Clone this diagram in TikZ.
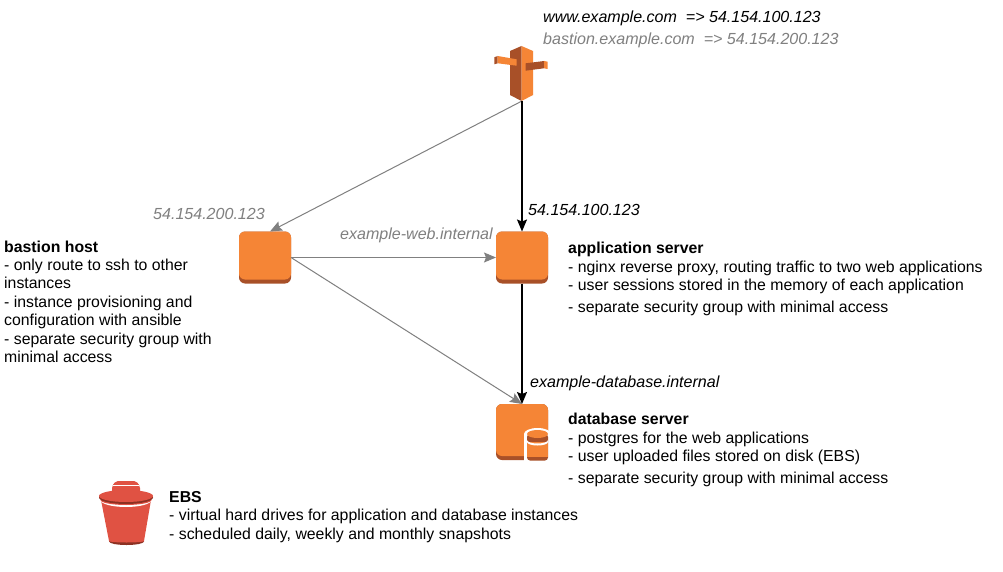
\documentclass[tikz,border=0pt]{standalone}
\usepackage{fontspec}
\setmainfont{Liberation Sans}
\usepackage{tikz}
\usetikzlibrary{arrows.meta}
\definecolor{awsOrange}{RGB}{245, 133, 54}
\definecolor{awsBrown}{RGB}{168, 80, 40}
\definecolor{awsRed}{RGB}{224, 82, 67}
\definecolor{awsMaroon}{RGB}{140, 49, 35}
\definecolor{softGray}{RGB}{128, 128, 128}
\tikzset{
  instance/.style={rectangle, fill=awsBrown, rounded corners=6pt, minimum width=52pt, minimum height=52pt, inner sep=0pt, outer sep=0pt},
  iconbox/.style={rectangle, minimum width=#1, inner sep=0pt, outer sep=0pt},
  notes/.style={anchor=north west, align=left, inner sep=0pt, font=\fontsize{15.82pt}{18.4pt}\selectfont},
  addr/.style={anchor=west, inner sep=0pt, font=\fontsize{16.05pt}{18pt}\selectfont\itshape},
  weak/.style={draw=softGray, line width=1pt, -{Stealth[length=12pt,width=10pt,inset=2pt]}},
  strong/.style={draw=black, line width=1.3pt, -{Stealth[length=12pt,width=10pt,inset=2pt]}},
}

\begin{document}
\begin{tikzpicture}[x=1pt, y=-1pt]
  \useasboundingbox[fill=white] (0,0) rectangle (1003,572);
  % dns icon
  \node[iconbox=54pt, minimum height=55pt] (dns) at (522,73.5) {};
  \fill[awsBrown] (510,51) -- (521.5,46) -- (521.5,101) -- (510,95) -- cycle;
  \fill[awsOrange] (533,51) -- (521.5,46) -- (521.5,101) -- (533,95) -- cycle;
  \fill[awsBrown] (494.3,57.3) -- (497.7,56) -- (497.7,63.3) -- (494.3,64.3) -- cycle;
  \fill[awsOrange] (497.7,56) -- (516.7,59.3) -- (516.7,65.7) -- (497.7,63.3) -- cycle;
  \fill[awsBrown] (525.7,63.3) -- (544,61) -- (544,68.3) -- (525.7,70.7) -- cycle;
  \fill[awsOrange] (544,61) -- (547.7,61.7) -- (547.7,69) -- (544,68.3) -- cycle;
  % instances
  \node[instance] (bastion) at (265,257.5) {};
  \fill[awsOrange, rounded corners=6pt] (bastion.north west) rectangle ([yshift=4pt]bastion.south east);
  \node[instance] (app) at (522,257.5) {};
  \fill[awsOrange, rounded corners=6pt] (app.north west) rectangle ([yshift=4pt]app.south east);
  % database with volume
  \node[instance, minimum height=56pt] (db) at (522,432) {};
  \fill[awsOrange, rounded corners=6pt] (db.north west) rectangle ([yshift=4pt]db.south east);
  \fill[white] (537.5,434) ellipse[x radius=13.5, y radius=6];
  \fill[white] (524,434) rectangle (552,464);
  \fill[awsBrown, rounded corners=3pt] (527,434) rectangle (548,460.5);
  \fill[awsOrange] (527,442) rectangle (548,456.5);
  \fill[white] (527,440) arc[start angle=180, end angle=360, x radius=10.5, y radius=-3.5] -- (548,442) arc[start angle=360, end angle=180, x radius=10.5, y radius=-3.5] -- cycle;
  \fill[awsOrange] (537.5,434) ellipse[x radius=10.5, y radius=4];
  % bucket
  \node[iconbox=54pt, minimum height=66pt] (ebs) at (126,513) {};
  \fill[awsRed, rounded corners=2pt] (112,493) -- (112,486) -- (116,481) -- (136,481) -- (140,486) -- (140,493) -- cycle;
  \fill[white] (113,485) rectangle (139,486);
  \fill[awsMaroon] (126.5,541.5) ellipse[x radius=17.5, y radius=3.5];
  \fill[awsRed] (101,500) -- (151,500) -- (144,541) -- (109,541) -- cycle;
  \fill[awsRed] (126.5,541) ellipse[x radius=17.5, y radius=1.5];
  \fill[white] (126,500) ellipse[x radius=25.5, y radius=7];
  \fill[awsRed] (126,500) ellipse[x radius=25.5, y radius=5];
  \fill[awsMaroon] (126,497.5) ellipse[x radius=27, y radius=6.5];
  \fill[awsRed] (126,496) ellipse[x radius=27, y radius=6];
  % connectors
  \draw[weak] (dns.south) -- ([xshift=5pt]bastion.north);
  \draw[strong] (dns.south) -- (app.north);
  \draw[weak] (bastion.east) -- (app.west);
  \draw[weak] (bastion.east) -- (db.north);
  \draw[strong] (app.south) -- (db.north);
  % addresses
  \node[addr] (wwwaddr) at (543,18.5) {www.example.com\ \ => 54.154.100.123};
  \node[addr, softGray] (bastionname) at (543,40) {bastion.example.com\ \ => 54.154.200.123};
  \node[addr, softGray] (bastionip) at (153,214) {54.154.200.123};
  \node[addr] (appip) at (528,210) {54.154.100.123};
  \node[addr, softGray] (webname) at (340,235) {example-web.internal};
  \node[addr] (dbname) at (530,383) {example-database.internal};
  % notes
  \node[notes] (bastionnotes) at (4,240.5) {\textbf{bastion host}\\- only route to ssh to other\\instances\\- instance provisioning and\\configuration with ansible\\- separate security group with\\minimal access};
  \node[notes] (appnotes) at (568,242) {\textbf{application server}\\- nginx reverse proxy, routing traffic to two web applications\\- user sessions stored in the memory of each application\\[4pt]- separate security group with minimal access};
  \node[notes] (dbnotes) at (568,413) {\textbf{database server}\\- postgres for the web applications\\- user uploaded files stored on disk (EBS)\\[4pt]- separate security group with minimal access};
  \node[notes] (ebsnotes) at (169,491) {\textbf{EBS}\\- virtual hard drives for application and database instances\\- scheduled daily, weekly and monthly snapshots};
\end{tikzpicture}
\end{document}
